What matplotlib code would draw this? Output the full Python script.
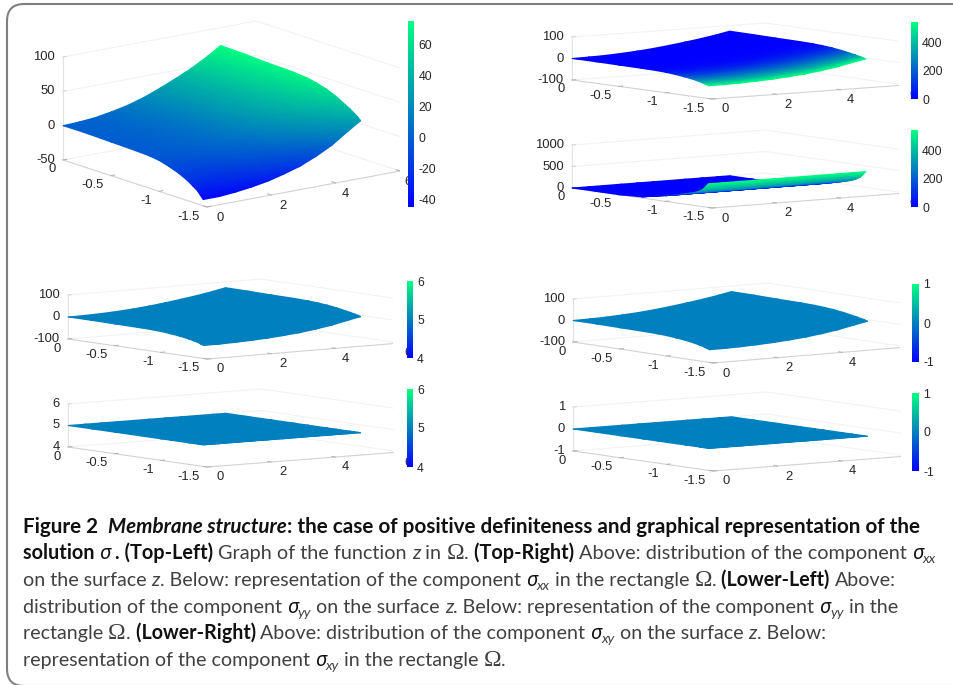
import numpy as np
import matplotlib
matplotlib.use("Agg")
import matplotlib.pyplot as plt
from matplotlib.cm import ScalarMappable
from matplotlib.collections import QuadMesh
from matplotlib.colors import Normalize
from matplotlib.font_manager import FontProperties
from matplotlib.patches import FancyBboxPatch
from mpl_toolkits.mplot3d import proj3d

W, H = 954, 685
plt.rcParams['font.family'] = ['Liberation Sans', 'DejaVu Sans']
plt.rcParams['axes.unicode_minus'] = False

# values
x_grid = [0, 0.5, 1, 1.5, 2, 2.5, 3, 3.5, 4, 4.5, 4.9]
y_grid = [0, -0.25, -0.5, -0.75, -0.9, -1.0, -1.1, -1.2, -1.3, -1.35, -1.4, -1.43, -1.46]
z_surface = [
    [0, 1, 3, 7, 12, 19, 28, 38, 49, 62, 74],
    [0, 1, 3, 7, 12, 19, 28, 37, 48, 61, 73],
    [-1, 0, 2, 6, 11, 18, 27, 36, 47, 60, 71],
    [-2, -1, 2, 5, 10, 17, 26, 35, 46, 58, 70],
    [-3, -2, 0, 4, 9, 15, 24, 33, 44, 56, 68],
    [-5, -4, -2, 2, 7, 13, 22, 31, 42, 53, 65],
    [-9, -8, -6, -2, 3, 9, 18, 27, 37, 49, 61],
    [-14, -13, -11, -7, -2, 4, 12, 21, 32, 43, 55],
    [-21, -20, -18, -14, -9, -4, 4, 13, 25, 36, 47],
    [-26, -25, -23, -19, -14, -9, -1, 8, 20, 31, 43],
    [-31, -31, -29, -25, -20, -14, -7, 2, 14, 26, 38],
    [-36, -36, -34, -31, -26, -20, -13, -4, 9, 23, 35],
    [-41, -41, -39, -36, -32, -26, -19, -9, 3, 19, 31],
]
# colour of the sigma_xx panels and the height of the lower one
sigma_xx = [0, 0, 1, 5, 20, 45, 90, 160, 260, 320, 390, 460, 540]
sigma_xx_height = [0, 0, 0, 25, 90, 130, 180, 235, 295, 335, 400, 470, 550]
sigma_yy = 5
sigma_xy = 0

x_ticks = [0, 2, 4, 6]
y_ticks = [0, -0.5, -1, -1.5]
y_labels = ['0', '-0.5', '-1', '-1.5']

X, Y = np.meshgrid(x_grid, y_grid)
Z = np.array(z_surface, dtype=float)
S_xx = np.array(sigma_xx, dtype=float)[:, None] * np.ones(len(x_grid))
S_xx_h = np.array(sigma_xx_height, dtype=float)[:, None] * np.ones(len(x_grid))
flat = np.ones_like(Z)


class GouraudMesh(QuadMesh):
    # lets a 2d mesh live in a 3d axes, colours are blended by the renderer
    def do_3d_projection(self):
        return 0


def project(ax, xs, ys, zs):
    xs, ys, zs = np.ravel(xs), np.ravel(ys), np.ravel(zs)
    px, py, _ = proj3d.proj_transform(xs.astype(float), ys.astype(float), zs.astype(float), ax.get_proj())
    return px, py


def make_panel(fig, p):
    (ox, oy), (tx, ty), (fx, fy), (rx, ry) = p['origin'], p['top'], p['front'], p['right']
    zmin, zmax = p['zticks'][0], p['zticks'][-1]
    # view angles from the way the box edges run on the page
    a = (fy - ry) / (rx - fx)
    b = (fy - oy) / (fx - ox)
    s = np.sqrt(a * b)
    az = 180 + np.degrees(np.arctan(np.sqrt(b / a)))
    el = np.degrees(np.arcsin(s))
    wx = (rx - fx) / -np.sin(np.radians(az))
    wy = (fx - ox) / -np.cos(np.radians(az))
    wz = (oy - ty) / np.cos(np.radians(el))

    ax = fig.add_axes([0.1, 0.1, 0.5, 0.5 * W / H], projection='3d')
    ax.set_proj_type('ortho')
    ax.view_init(elev=el, azim=az)
    ax.set_xlim(0, 6)
    ax.set_ylim(-1.5, 0)
    ax.set_zlim(zmin, zmax)
    ax.set_box_aspect((wx, wy, wz))
    ax.set_axis_off()
    ax.patch.set_alpha(0)

    # put the axes so the box corners land where they are on the page
    u = project(ax, [0, 6], [0, -1.5], [zmin, zmin])
    fr = ax.transLimits.transform(np.column_stack(u))
    side = (rx - ox) / (fr[1, 0] - fr[0, 0])
    left = ox - side * fr[0, 0]
    bottom = (H - oy) - side * fr[0, 1]
    ax.set_position([left / W, bottom / H, side / W, side / H])

    # walls and floor
    for z in p['zticks']:
        ax.plot([0, 6, 6], [0, 0, -1.5], [z, z, z], color='#f2f2f2', lw=0.8)
        ax.plot([0, 0.1], [0, 0], [z, z], color='#d0d0d0', lw=0.7)
    ax.plot([0, 0, 6], [0, -1.5, -1.5], [zmin, zmin, zmin], color='#d2d2d2', lw=0.8)
    ax.plot([0, 0], [0, 0], [zmin, zmax], color='#e2e2e2', lw=0.8)
    for v in x_ticks:
        ax.plot([v, v], [-1.5, -1.46], [zmin, zmin], color='#b0b0b0', lw=0.7)
    for v in y_ticks:
        ax.plot([0, 0.12], [v, v], [zmin, zmin], color='#b0b0b0', lw=0.7)

    # surface
    norm = Normalize(p['clim'][0], p['clim'][1])
    sx, sy = project(ax, X, Y, p['z'])
    coords = np.dstack([sx.reshape(X.shape), sy.reshape(X.shape)])
    mesh = GouraudMesh(coords, shading='gouraud', antialiased=False, cmap='winter', norm=norm,
                       transform=ax.transData)
    mesh.set_array(np.ravel(p['c']))
    mesh.set_clip_on(False)
    ax.add_collection(mesh, autolim=False)

    # tick labels
    def to_page(x, y, z):
        a2, b2 = project(ax, [x], [y], [z])
        d = ax.transData.transform((a2[0], b2[0]))
        return d[0], H - d[1]

    def put(px, py, s, ha):
        fig.text(px / W, 1 - py / H, s, ha=ha, va='center', fontsize=9.4, color='#262626')

    for z in p['zticks']:
        a2, b2 = to_page(0, 0, z)
        put(a2 - 8, b2, str(z), 'right')
    for v, s2 in zip(y_ticks, y_labels):
        a2, b2 = to_page(0, v, zmin)
        put(a2 - 7, b2 + 9.5, s2, 'right')
    for v in x_ticks:
        a2, b2 = to_page(v, -1.5, zmin)
        put(a2 + 13 - 0.8 * v, b2 + 10.5, str(v), 'center')

    # colorbar
    cx0, cx1, cy0, cy1 = p['bar']
    cax = fig.add_axes([cx0 / W, 1 - cy1 / H, (cx1 - cx0) / W, (cy1 - cy0) / H], zorder=10)
    cb = fig.colorbar(ScalarMappable(norm=norm, cmap='winter'), cax=cax)
    cb.set_ticks(p['cticks'])
    cb.outline.set_visible(False)
    cax.tick_params(length=0, labelsize=8.8, pad=3, labelcolor='#262626')


panels = [
    dict(origin=(63, 160), top=(63, 57), front=(207, 207), right=(400, 171), zticks=[-50, 0, 50, 100],
         z=Z, c=Z, clim=(-44.5, 75), bar=(408, 414.5, 21, 207), cticks=[-40, -20, 0, 20, 40, 60]),
    dict(origin=(572, 80), top=(572, 37), front=(712, 99), right=(905, 85), zticks=[-100, 0, 100],
         z=Z, c=S_xx, clim=(0, 545), bar=(911, 918, 22, 99), cticks=[0, 200, 400]),
    dict(origin=(572, 188), top=(572, 145), front=(712, 208), right=(905, 193), zticks=[0, 500, 1000],
         z=S_xx_h, c=S_xx, clim=(0, 545), bar=(911, 918, 130, 207), cticks=[0, 200, 400]),
    dict(origin=(68, 339), top=(68, 295), front=(207, 359), right=(400, 343), zticks=[-100, 0, 100],
         z=Z, c=flat * sigma_yy, clim=(4, 6), bar=(407, 413, 281, 358), cticks=[4, 5, 6]),
    dict(origin=(68, 447), top=(68, 404), front=(207, 467), right=(400, 452), zticks=[4, 5, 6],
         z=flat * sigma_yy, c=flat * sigma_yy, clim=(4, 6), bar=(407, 413, 389, 467), cticks=[4, 5, 6]),
    dict(origin=(573, 342), top=(573, 299), front=(713, 363), right=(907, 347), zticks=[-100, 0, 100],
         z=Z, c=flat * sigma_xy, clim=(-1, 1), bar=(912, 919, 284, 362), cticks=[-1, 0, 1]),
    dict(origin=(573, 451), top=(573, 407), front=(713, 471), right=(907, 456), zticks=[-1, 0, 1],
         z=flat * sigma_xy, c=flat * sigma_xy, clim=(-1, 1), bar=(912, 919, 393, 471), cticks=[-1, 0, 1]),
]

# caption: b bold, bi bold italic, r regular, i italic, O omega, s sigma, u subscript
caption = [
    (919, [('b', 'Figure 2  '), ('bi', 'Membrane structure'),
           ('b', ': the case of positive definiteness and graphical representation of the')]),
    (932, [('b', 'solution '), ('s', 'σ'), ('b', ' . (Top-Left) '), ('r', 'Graph of the function '), ('i', 'z'),
           ('r', ' in '), ('O', 'Ω'), ('r', '. '), ('b', '(Top-Right) '),
           ('r', 'Above: distribution of the component '), ('s', 'σ'), ('u', 'xx')]),
    (890, [('r', 'on the surface '), ('i', 'z'), ('r', '. Below: representation of the component '), ('s', 'σ'),
           ('u', 'xx'), ('r', ' in the rectangle '), ('O', 'Ω'), ('r', '. '), ('b', '(Lower-Left) '), ('r', 'Above:')]),
    (893, [('r', 'distribution of the component '), ('s', 'σ'), ('u', 'yy'), ('r', ' on the surface '), ('i', 'z'),
           ('r', '. Below: representation of the component '), ('s', 'σ'), ('u', 'yy'), ('r', ' in the')]),
    (824, [('r', 'rectangle '), ('O', 'Ω'), ('r', '. '), ('b', '(Lower-Right) '),
           ('r', 'Above: distribution of the component '), ('s', 'σ'), ('u', 'xy'), ('r', ' on the surface '),
           ('i', 'z'), ('r', '. Below:')]),
    (504, [('r', 'representation of the component '), ('s', 'σ'), ('u', 'xy'), ('r', ' in the rectangle '),
           ('O', 'Ω'), ('r', '.')]),
]
caption_base = [533, 559, 586, 613, 639, 666]

run_style = {
    'r': dict(family='Lato', weight='normal', style='normal', k=1.0, dy=0, color='#404040'),
    'i': dict(family='Lato', weight='normal', style='italic', k=1.0, dy=0, color='#404040'),
    'b': dict(family='Lato', weight='bold', style='normal', k=1.0, dy=0, color='#111111'),
    'bi': dict(family='Lato', weight='bold', style='italic', k=1.0, dy=0, color='#111111'),
    's': dict(family='Noto Sans', weight='bold', style='italic', k=1.0, dy=0, color='#111111'),
    'u': dict(family='Lato', weight='normal', style='italic', k=0.72, dy=4, color='#404040'),
    'O': dict(family='Liberation Serif', weight='normal', style='normal', k=1.2, dy=0, color='#404040'),
}


def font_of(key, size):
    st = run_style[key]
    return FontProperties(family=st['family'], weight=st['weight'], style=st['style'], size=size * st['k'])


def run_width(renderer, key, text, size):
    fp = font_of(key, size)
    a = renderer.get_text_width_height_descent(text + '|', fp, False)[0]
    b = renderer.get_text_width_height_descent('|', fp, False)[0]
    return a - b


fig = plt.figure(figsize=(W / 100, H / 100), dpi=100)
fig.patch.set_facecolor('white')

frame = FancyBboxPatch((7 / W, 1 - 686 / H), 1000 / W, 682 / H, boxstyle='round,pad=0,rounding_size=0.018',
                       transform=fig.transFigure, fc='none', ec='#7f7f7f', lw=1.5, mutation_aspect=W / H)
fig.add_artist(frame)

for p in panels:
    make_panel(fig, p)

renderer = fig.canvas.get_renderer()
for (end_x, runs), base in zip(caption, caption_base):
    total = sum(run_width(renderer, k, t, 13.0) for k, t in runs)
    size = 13.0 * (end_x - 23) / total
    x = 23.0
    for k, t in runs:
        st = run_style[k]
        fig.text(x / W, 1 - (base + st['dy']) / H, t, fontproperties=font_of(k, size), color=st['color'],
                 ha='left', va='baseline')
        x += run_width(renderer, k, t, size)

fig.savefig('out.png', dpi=100)
